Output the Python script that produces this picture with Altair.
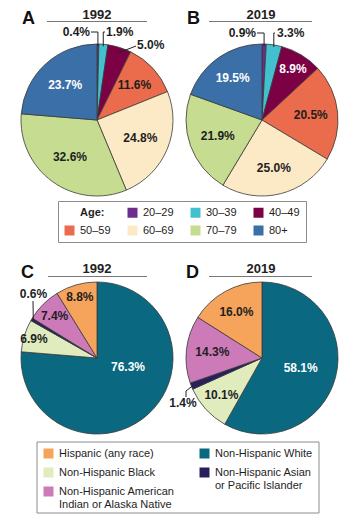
import math
import altair as alt
import pandas as pd

# ---------------- data ----------------
age_groups = ["20–29", "30–39", "40–49", "50–59", "60–69", "70–79", "80+"]
age_1992 = [0.4, 1.9, 5.0, 11.6, 24.8, 32.6, 23.7]
age_2019 = [0.9, 3.3, 8.9, 20.5, 25.0, 21.9, 19.5]

race_groups = ["Non-Hispanic White", "Non-Hispanic Black",
               "Non-Hispanic Asian or Pacific Islander",
               "Non-Hispanic American Indian or Alaska Native",
               "Hispanic (any race)"]
race_1992 = [76.3, 6.9, 0.6, 7.4, 8.8]
race_2019 = [58.1, 10.1, 1.4, 14.3, 16.0]

panel_letters = ["A", "B", "C", "D"]
panel_years = ["1992", "2019", "1992", "2019"]
age_legend_title = "Age:"
race_legend_left = ["Hispanic (any race)", "Non-Hispanic Black",
                    "Non-Hispanic American Indian or Alaska Native"]
race_legend_right = ["Non-Hispanic White", "Non-Hispanic Asian or Pacific Islander"]

# ---------------- styles / layout ----------------
FONT = "Liberation Sans"
DARK = "#1e1e1e"
age_colors = ["#6c2d8e", "#43c0cf", "#7b0044", "#eb6b4d", "#fce9c5", "#c6dc91", "#3b6fa7"]
race_colors = ["#0a6880", "#e0ebbe", "#28205c", "#cd7ab8", "#f6a35b"]
age_text_white = [True, False, True, False, False, False, True]
race_text_white = [True, False, True, False, False]

R = 76
centers = {"A": (97, 120), "B": (262, 120), "C": (97, 358), "D": (262, 358)}
inside_label_radius = {
    "A": [None, None, None, 51, 47, 46, 47],
    "B": [None, None, 60, 49, 49, 47, 51],
    "C": [None, 66, None, 60, 63],
    "D": [40, 55, None, 50, 53],
}
# outside labels: panel, slice index, text offset from centre, align,
# leader start offset, optional bend offset, anchor radius
outside = [
    ("A", 0, (-7, -88), "right", (-6, -88), "h", 74),
    ("A", 1, (9, -88), "left", (8, -88), "h", 74),
    ("A", 2, (40, -75), "left", (39, -74), None, 70),
    ("B", 0, (-6, -87), "right", (-5, -87), "h", 74),
    ("B", 1, (15, -87), "left", (13, -87), "h", 74),
    ("C", 2, (-63.5, -64), "center", (-64, -57), None, 74),
    ("D", 2, (-79, 45), "center", (-76, 39), (-76, 33), 74),
]
c_white_offset = (31, 9)

letter_pos = {"A": (22, 24), "B": (187, 24), "C": (21, 278), "D": (186, 278)}
year_pos = {"A": (97, 19), "B": (261, 19), "C": (97, 273), "D": (261, 273)}
rule_pos = {"A": (47, 147, 21.5), "B": (209, 312, 21.5), "C": (48, 147, 276.5), "D": (209, 312, 276.5)}
race_box = (37, 319, 442, 513)

panel_values = {"A": age_1992, "B": age_2019, "C": race_1992, "D": race_2019}


def slice_point(panel, k, r):
    vals = panel_values[panel]
    total = sum(vals)
    a = (sum(vals[:k]) + vals[k] / 2) / total * 2 * math.pi
    cx, cy = centers[panel]
    return cx + r * math.sin(a), cy - r * math.cos(a)


def pie_frame(panel, cats, vals, twhite):
    rows = []
    for i, (c, v) in enumerate(zip(cats, vals)):
        lr = inside_label_radius[panel][i]
        rows.append(dict(cat=c, value=v, ord=i,
                         label=(f"{v:.1f}%" if lr is not None else ""),
                         lr=(lr if lr is not None else 0), w=twhite[i]))
    return pd.DataFrame(rows)


legend_common = dict(
    orient="none", title=None, direction="horizontal",
    symbolType="square", symbolSize=100, symbolStrokeWidth=0,
    labelFont=FONT, labelFontSize=11, labelColor=DARK, labelOffset=5,
)
age_legend = alt.Legend(
    legendX=58, legendY=201, columns=4,
    labelFontWeight={"expr": "datum.label == 'Age:' ? 'bold' : 'normal'"},
    columnPadding=16, rowPadding=6, padding=6, gridAlign="each",
    strokeColor="#8c8c8c", fillColor="white", **legend_common,
)
multi_line = ("datum.label == 'Non-Hispanic American Indian or Alaska Native' ? "
              "['Non-Hispanic American', 'Indian or Alaska Native'] : "
              "datum.label == 'Non-Hispanic Asian or Pacific Islander' ? "
              "['Non-Hispanic Asian', 'or Pacific Islander'] : datum.label")
race_legend_l = alt.Legend(
    legendX=race_box[0], legendY=race_box[2], columns=1, values=race_legend_left,
    labelLimit=300, labelExpr=multi_line, rowPadding=7, padding=6, **legend_common,
)
race_legend_r = alt.Legend(
    legendX=193, legendY=race_box[2], columns=1, values=race_legend_right,
    labelLimit=300, labelExpr=multi_line, rowPadding=7, padding=6, **legend_common,
)

age_scale = alt.Scale(domain=[age_legend_title] + age_groups, range=["transparent"] + age_colors)
race_scale = alt.Scale(domain=race_groups, range=race_colors)


def pie_layers(panel, cats, vals, twhite, scale, legend):
    cx, cy = centers[panel]
    df = pie_frame(panel, cats, vals, twhite)
    if legend is None:
        col = alt.Color("cat:N", scale=scale, legend=None)
    else:
        col = alt.Color("cat:N", scale=scale, legend=legend)
    arc = alt.Chart(df).mark_arc(radius=R, stroke="#3a3a3a", strokeWidth=0.8).encode(
        theta=alt.Theta("value:Q", stack=True),
        order=alt.Order("ord:Q", sort="ascending"),
        color=col, x=alt.value(cx), y=alt.value(cy))
    txt = alt.Chart(df).transform_joinaggregate(
        total="sum(value)"
    ).transform_window(
        cum="sum(value)", sort=[alt.SortField("ord", order="ascending")], frame=[None, 0]
    ).transform_calculate(
        mid="(datum.cum - datum.value / 2) / datum.total"
    ).mark_text(font=FONT, fontSize=12, fontWeight="bold", baseline="middle").encode(
        theta=alt.Theta("mid:Q", stack=None,
                        scale=alt.Scale(domain=[0, 1], range=[0, 2 * math.pi])),
        radius=alt.Radius("lr:Q", scale=None),
        text="label:N",
        color=alt.condition("datum.w", alt.value("white"), alt.value(DARK)),
        x=alt.value(cx), y=alt.value(cy))
    return [arc, txt]


# legend frame for race legend (two legends share one box)
box = pd.DataFrame({"x1": [race_box[0]], "x2": [race_box[1]], "y1": [race_box[2]], "y2": [race_box[3]]})
layers = [alt.Chart(box).mark_rect(fill="white", stroke="#8c8c8c", strokeWidth=1).encode(
    x=alt.X("x1:Q", scale=None, axis=None), x2="x2:Q",
    y=alt.Y("y1:Q", scale=None, axis=None), y2="y2:Q")]

layers += pie_layers("A", age_groups, age_1992, age_text_white, age_scale, age_legend)
layers += pie_layers("B", age_groups, age_2019, age_text_white, age_scale, None)
layers += pie_layers("C", race_groups, race_1992, race_text_white, race_scale, race_legend_l)
layers += pie_layers("D", race_groups, race_2019, race_text_white, race_scale, race_legend_r)

# outside labels and leader lines
ann_rows, lead_rows = [], []
for j, (panel, k, (tdx, tdy), align, (sdx, sdy), bend, ra) in enumerate(outside):
    cx, cy = centers[panel]
    v = panel_values[panel][k]
    ann_rows.append(dict(x=cx + tdx, y=cy + tdy, text=f"{v:.1f}%", align=align, w=False))
    ax, ay = slice_point(panel, k, ra)
    sx, sy = cx + sdx, cy + sdy
    pts = [(sx, sy)]
    if bend == "h":
        pts.append((ax, sy))
    elif bend is not None:
        pts.append((cx + bend[0], cy + bend[1]))
    pts.append((ax, ay))
    for o, (px, py) in enumerate(pts):
        lead_rows.append(dict(id=j, o=o, x=px, y=py))
cx, cy = centers["C"]
ann_rows.append(dict(x=cx + c_white_offset[0], y=cy + c_white_offset[1],
                     text=f"{race_1992[0]:.1f}%", align="center", w=True))
ann = pd.DataFrame(ann_rows)
lead = pd.DataFrame(lead_rows)

layers.append(alt.Chart(lead).mark_line(color="#222222", strokeWidth=1).encode(
    x=alt.X("x:Q", scale=None, axis=None), y=alt.Y("y:Q", scale=None, axis=None),
    detail="id:N", order="o:Q"))
for al in ["left", "right", "center"]:
    sub = ann[ann["align"] == al]
    layers.append(alt.Chart(sub).mark_text(font=FONT, fontSize=12, fontWeight="bold",
                                            align=al, baseline="middle").encode(
        x=alt.X("x:Q", scale=None, axis=None), y=alt.Y("y:Q", scale=None, axis=None),
        text="text:N",
        color=alt.condition("datum.w", alt.value("white"), alt.value(DARK))))

# panel titles
titles = pd.DataFrame({
    "letter": panel_letters,
    "year": panel_years,
    "lx": [letter_pos[p][0] for p in panel_letters],
    "ly": [letter_pos[p][1] for p in panel_letters],
    "yx": [year_pos[p][0] for p in panel_letters],
    "yy": [year_pos[p][1] for p in panel_letters],
    "r1": [rule_pos[p][0] for p in panel_letters],
    "r2": [rule_pos[p][1] for p in panel_letters],
    "ry": [rule_pos[p][2] for p in panel_letters],
})
layers.append(alt.Chart(titles).mark_rule(color="#777777", strokeWidth=1.2).encode(
    x=alt.X("r1:Q", scale=None, axis=None), x2="r2:Q", y=alt.Y("ry:Q", scale=None, axis=None)))
layers.append(alt.Chart(titles).mark_text(font=FONT, fontSize=18, fontWeight="bold",
                                           align="left", baseline="alphabetic", color="#111").encode(
    x=alt.X("lx:Q", scale=None, axis=None), y=alt.Y("ly:Q", scale=None, axis=None), text="letter:N"))
layers.append(alt.Chart(titles).mark_text(font=FONT, fontSize=13, fontWeight="bold",
                                           align="center", baseline="alphabetic", color="#222").encode(
    x=alt.X("yx:Q", scale=None, axis=None), y=alt.Y("yy:Q", scale=None, axis=None), text="year:N"))

chart = alt.layer(*layers).resolve_scale(
    theta="independent", color="independent"
).properties(
    width=356, height=519, autosize="none", padding=0, background="white"
).configure_view(stroke=None)

chart.save("out.html", embed_options={"renderer": "svg", "actions": False})
